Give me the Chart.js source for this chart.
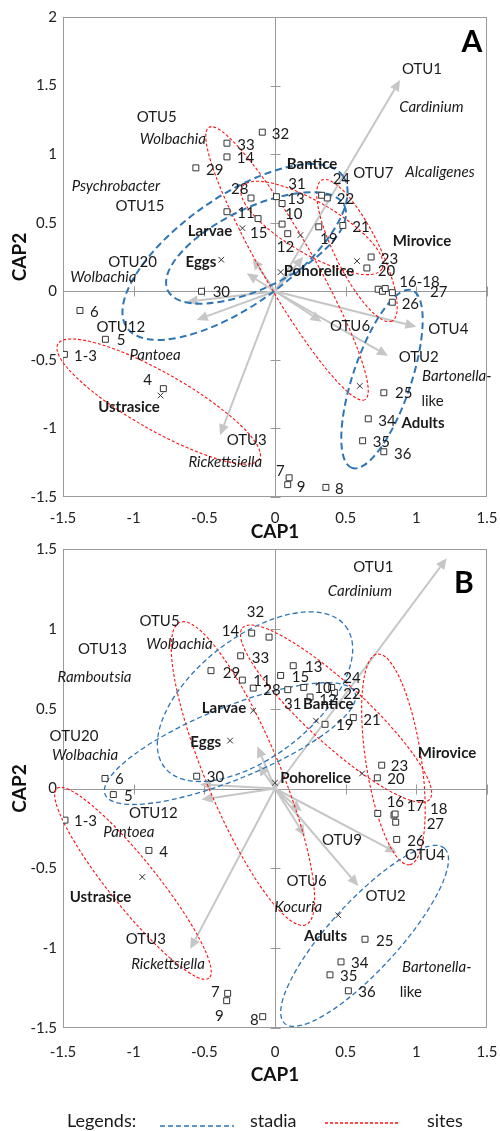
<!DOCTYPE html>
<html>
<head>
<meta charset="utf-8">
<script src="https://cdn.jsdelivr.net/npm/chart.js@4.4.1/dist/chart.umd.min.js"></script>
<style>
body { margin: 0; background: #fff; }
#wrap { position: relative; width: 500px; height: 1131px; overflow: hidden; }
#chartA { position: absolute; left: 0; top: 0; }
#chartB { position: absolute; left: 0; top: 530px; }
</style>
</head>
<body>
<div id="wrap">
<canvas id="chartA" width="500" height="545"></canvas>
<canvas id="chartB" width="500" height="601"></canvas>
</div>
<script>
// =========================
// PANEL A - data
// =========================
const samplesA = [
    ['1-3', -1.49, -0.46], ['4', -0.79, -0.71], ['5', -1.20, -0.35], ['6', -1.38, -0.14],
    ['7', 0.10, -1.36], ['8', 0.36, -1.43], ['9', 0.09, -1.41], ['10', 0.05, 0.49],
    ['11', -0.34, 0.58], ['12', 0.09, 0.42], ['13', 0.05, 0.64], ['14', -0.34, 0.98],
    ['15', -0.12, 0.53], ['16', 0.73, 0.015], ['17', 0.76, 0.0], ['18', 0.78, 0.02],
    ['19', 0.31, 0.47], ['20', 0.65, 0.17], ['21', 0.48, 0.48], ['22', 0.37, 0.68],
    ['23', 0.68, 0.25], ['24', 0.33, 0.70], ['25', 0.77, -0.74], ['26', 0.83, -0.08],
    ['27', 0.83, -0.01], ['28', -0.17, 0.68], ['29', -0.56, 0.90], ['30', -0.52, 0.0],
    ['31', 0.01, 0.69], ['32', -0.09, 1.16], ['33', -0.34, 1.08], ['34', 0.66, -0.93],
    ['35', 0.62, -1.09], ['36', 0.77, -1.17]
];
// where each sample number is written (left edge of text)
const sampleTextA = [
    ['1-3', -1.422, -0.472], ['4', -0.932, -0.647], ['5', -1.12, -0.355], ['6', -1.309, -0.149],
    ['7', 0.007, -1.315], ['8', 0.425, -1.442], ['9', 0.154, -1.425], ['10', 0.071, 0.561],
    ['11', -0.267, 0.569], ['12', 0.012, 0.325], ['13', 0.087, 0.675], ['14', -0.271, 0.97],
    ['15', -0.177, 0.427], ['16-18', 0.88, 0.07], ['19', 0.318, 0.379], ['20', 0.727, 0.15],
    ['21', 0.547, 0.467], ['22', 0.437, 0.671], ['23', 0.748, 0.236], ['24', 0.408, 0.817],
    ['25', 0.849, -0.744], ['26', 0.896, -0.093], ['27', 1.097, -0.003], ['28', -0.311, 0.746],
    ['29', -0.488, 0.885], ['30', -0.441, -0.005], ['31', 0.094, 0.782], ['32', -0.023, 1.147],
    ['33', -0.267, 1.067], ['34', 0.731, -0.944], ['35', 0.691, -1.101], ['36', 0.842, -1.186]
];
const centroidsA = [
    ['Eggs', -0.38, 0.23], ['Larvae', -0.23, 0.46], ['Adults', 0.60, -0.69],
    ['Bantice', 0.18, 0.41], ['Mirovice', 0.58, 0.22], ['Pohorelice', 0.04, 0.14], ['Ustrasice', -0.81, -0.76]
];
const groupTextA = [
    ['Eggs', -0.524, 0.214], ['Larvae', -0.46, 0.44], ['Adults', 1.047, -0.96],
    ['Bantice', 0.262, 0.928], ['Mirovice', 1.04, 0.367], ['Pohorelice', 0.311, 0.148], ['Ustrasice', -1.033, -0.844]
];
// OTU vectors (tips), origin at 0,0
const vectorsA = [
    [0.885, 1.54], [0.20, 0.252], [-0.158, 0.241], [-0.20, 0.131], [-0.625, -0.076],
    [-0.554, -0.209], [0.33, -0.222], [1.0, -0.258], [0.80, -0.47], [-0.389, -1.05]
];
const taxaTextA = [
    ['OTU1', 1.04, 1.62, 0], ['Cardinium', 1.106, 1.342, 1], ['OTU7', 0.696, 0.865, 0],
    ['Alcaligenes', 1.167, 0.872, 1], ['OTU5', -0.837, 1.273, 0], ['Wolbachia', -0.723, 1.108, 1],
    ['Psychrobacter', -1.126, 0.768, 1], ['OTU15', -0.955, 0.622, 0], ['OTU20', -1.008, 0.216, 0],
    ['Wolbachia', -1.215, 0.106, 1], ['OTU12', -1.091, -0.258, 0], ['Pantoea', -0.849, -0.464, 1],
    ['OTU3', -0.2, -1.084, 0], ['Rickettsiella', -0.352, -1.243, 1], ['OTU6', 0.531, -0.253, 0],
    ['OTU4', 1.226, -0.277, 0], ['OTU2', 1.017, -0.481, 0], ['Bartonella-', 1.286, -0.618, 1],
    ['like', 1.115, -0.798, 0]
];
// ellipses: centre x, centre y, end of long axis x, y, short/long ratio
const stadiaEllA = [
    [-0.283, 0.287, 0.482, 0.839, 0.415],
    [-0.134, 0.316, 0.491, 0.625, 0.41],
    [0.757, -0.64, 0.545, -1.288, 0.31]
];
const sitesEllA = [
    [0.085, 0.203, 0.637, -0.79, 0.166],
    [0.262, 0.462, 0.757, 0.163, 0.32],
    [0.58, 0.297, 0.828, -0.217, 0.28],
    [-0.823, -0.804, -0.11, -1.223, 0.246]
];

// =========================
// PANEL B - data
// =========================
const samplesB = [
    ['1-3', -1.486, -0.198], ['4', -0.892, -0.388], ['5', -1.144, -0.038], ['6', -1.203, 0.063],
    ['7', -0.335, -1.283], ['8', -0.087, -1.429], ['9', -0.342, -1.329], ['10', 0.203, 0.633],
    ['11', -0.231, 0.679], ['12', 0.248, 0.573], ['13', 0.129, 0.769], ['14', -0.165, 0.973],
    ['15', 0.04, 0.708], ['16', 0.727, -0.156], ['17', 0.842, -0.167], ['18', 0.85, -0.16],
    ['19', 0.354, 0.402], ['20', 0.724, 0.067], ['21', 0.554, 0.444], ['22', 0.42, 0.602],
    ['23', 0.755, 0.146], ['24', 0.401, 0.633], ['25', 0.637, -0.944], ['26', 0.861, -0.319],
    ['27', 0.854, -0.211], ['28', -0.154, 0.629], ['29', -0.453, 0.738], ['30', -0.554, 0.077],
    ['31', 0.09, 0.619], ['32', -0.042, 0.948], ['33', -0.243, 0.831], ['34', 0.467, -1.086],
    ['35', 0.389, -1.167], ['36', 0.519, -1.267]
];
const sampleTextB = [
    ['1-3', -1.422, -0.204], ['4', -0.819, -0.398], ['5', -1.068, -0.048], ['6', -1.132, 0.056],
    ['7', -0.453, -1.277], ['8', -0.177, -1.454], ['9', -0.425, -1.423], ['10', 0.278, 0.627],
    ['11', -0.154, 0.671], ['12', 0.313, 0.556], ['13', 0.212, 0.758], ['14', -0.377, 0.988],
    ['15', 0.118, 0.696], ['16', 0.79, -0.086], ['17', 0.932, -0.111], ['18', 1.097, -0.127],
    ['19', 0.432, 0.394], ['20', 0.795, 0.056], ['21', 0.625, 0.431], ['22', 0.483, 0.588],
    ['23', 0.819, 0.139], ['24', 0.483, 0.694], ['25', 0.715, -0.954], ['26', 0.936, -0.329],
    ['27', 1.073, -0.221], ['28', -0.083, 0.619], ['29', -0.37, 0.723], ['30', -0.483, 0.073],
    ['31', 0.064, 0.531], ['32', -0.2, 1.102], ['33', -0.165, 0.817], ['34', 0.538, -1.094],
    ['35', 0.46, -1.177], ['36', 0.589, -1.277]
];
const centroidsB = [
    ['Eggs', -0.318, 0.3], ['Larvae', -0.154, 0.488], ['Adults', 0.448, -0.794],
    ['Bantice', 0.29, 0.425], ['Mirovice', 0.616, 0.094], ['Pohorelice', 0.0, 0.036], ['Ustrasice', -0.939, -0.554]
];
const groupTextB = [
    ['Eggs', -0.49, 0.292], ['Larvae', -0.361, 0.504], ['Adults', 0.357, -0.923],
    ['Bantice', 0.377, 0.529], ['Mirovice', 1.217, 0.223], ['Pohorelice', 0.287, 0.063], ['Ustrasice', -1.235, -0.679]
];
const vectorsB = [
    [1.215, 1.442], [-0.125, 0.264], [-0.118, 0.15], [-0.53, 0.025], [-0.52, -0.069],
    [-0.60, -1.006], [0.189, -0.142], [0.212, -0.298], [0.861, -0.402], [0.59, -0.61]
];
const taxaTextB = [
    ['OTU1', 0.696, 1.389, 0], ['Cardinium', 0.601, 1.238, 1], ['OTU5', -0.817, 1.046, 0],
    ['Wolbachia', -0.676, 0.906, 1], ['OTU13', -1.221, 0.875, 0], ['Ramboutsia', -1.277, 0.696, 1],
    ['OTU20', -1.422, 0.327, 0], ['Wolbachia', -1.344, 0.208, 1], ['OTU12', -0.861, -0.152, 0],
    ['Pantoea', -1.034, -0.271, 1], ['OTU3', -0.914, -0.944, 0], ['Rickettsiella', -0.757, -1.1, 1],
    ['OTU9', 0.474, -0.323, 0], ['OTU4', 1.061, -0.419, 0], ['OTU6', 0.224, -0.579, 0],
    ['Kocuria', 0.165, -0.746, 1], ['OTU2', 0.783, -0.677, 0], ['Bartonella-', 1.144, -1.121, 1],
    ['like', 0.961, -1.273, 0]
];
const stadiaEllB = [
    [-0.1415, 0.575, 0.499, 1.017, 0.52],
    [-0.318, 0.281, 0.566, 0.6, 0.267],
    [0.634, -0.923, 1.2, -0.375, 0.29]
];
const sitesEllB = [
    [-0.227, 0.094, 0.219, -0.853, 0.226],
    [0.432, 0.469, 1.093, -0.069, 0.236],
    [0.838, 0.1825, 0.952, -0.477, 0.26],
    [-1.005, -0.594, -0.467, -1.188, 0.197]
];

const BLUE = '#2e75b6';
const RED = '#ff1010';
const GREY_AX = '#9a9a9a';
const GREY_VEC = '#c6c6c6';

Chart.defaults.font.family = 'Lato, "Open Sans", sans-serif';
Chart.defaults.color = '#222';

// =========================
// PLUGIN: frame, vectors, ellipses, texts
// =========================
function ordPlugin(cfg) {
    return {
        id: 'ord' + cfg.letter,
        beforeDatasetsDraw(chart) {
            const { ctx, chartArea: a } = chart;
            const xs = chart.scales.x, ys = chart.scales.y;
            const px = v => xs.getPixelForValue(v);
            const py = v => ys.getPixelForValue(v);
            ctx.save();

            // frame + zero axes
            ctx.strokeStyle = GREY_AX;
            ctx.lineWidth = 1;
            ctx.strokeRect(a.left + 0.5, a.top + 0.5, a.width - 1, a.height - 1);
            const x0 = Math.round(px(0)) + 0.5, y0 = Math.round(py(0)) + 0.5;
            ctx.beginPath();
            ctx.moveTo(x0, a.top); ctx.lineTo(x0, a.bottom);
            ctx.moveTo(a.left, y0); ctx.lineTo(a.right, y0);
            xs.ticks.forEach(t => {
                if (t.value === 0) return;
                const p = Math.round(px(t.value)) + 0.5;
                ctx.moveTo(p, y0 - 5); ctx.lineTo(p, y0 + 5);
            });
            ys.ticks.forEach(t => {
                if (t.value === 0) return;
                const p = Math.round(py(t.value)) + 0.5;
                ctx.moveTo(x0 - 5, p); ctx.lineTo(x0 + 5, p);
            });
            ctx.stroke();

            // OTU vectors
            ctx.strokeStyle = GREY_VEC;
            ctx.fillStyle = GREY_VEC;
            ctx.lineWidth = 2;
            cfg.vectors.forEach(v => {
                const x1 = px(0), y1 = py(0), x2 = px(v[0]), y2 = py(v[1]);
                const ang = Math.atan2(y2 - y1, x2 - x1);
                const L = 11, W = 5;
                ctx.beginPath();
                ctx.moveTo(x1, y1);
                ctx.lineTo(x2 - L * Math.cos(ang), y2 - L * Math.sin(ang));
                ctx.stroke();
                ctx.beginPath();
                ctx.moveTo(x2, y2);
                ctx.lineTo(x2 - L * Math.cos(ang) + W * Math.sin(ang), y2 - L * Math.sin(ang) - W * Math.cos(ang));
                ctx.lineTo(x2 - L * Math.cos(ang) - W * Math.sin(ang), y2 - L * Math.sin(ang) + W * Math.cos(ang));
                ctx.closePath();
                ctx.fill();
            });

            // ellipses
            const drawEll = (list, color, width, dash) => {
                ctx.strokeStyle = color;
                ctx.lineWidth = width;
                ctx.setLineDash(dash);
                list.forEach(e => {
                    const cx = px(e[0]), cy = py(e[1]);
                    const ex = px(e[2]), ey = py(e[3]);
                    const r = Math.hypot(ex - cx, ey - cy);
                    ctx.beginPath();
                    ctx.ellipse(cx, cy, r, r * e[4], Math.atan2(ey - cy, ex - cx), 0, Math.PI * 2);
                    ctx.stroke();
                });
            };
            drawEll(cfg.sitesEll, RED, 1.1, [3, 2]);
            drawEll(cfg.stadiaEll, BLUE, cfg.blueWidth, cfg.blueDash);
            ctx.restore();
        },
        afterDatasetsDraw(chart) {
            const { ctx } = chart;
            const xs = chart.scales.x, ys = chart.scales.y;
            ctx.save();
            ctx.fillStyle = '#1a1a1a';
            ctx.textBaseline = 'middle';

            // sample numbers
            ctx.font = '15px Lato';
            ctx.textAlign = 'left';
            cfg.sampleText.forEach(t => ctx.fillText(t[0], xs.getPixelForValue(t[1]), ys.getPixelForValue(t[2])));

            // OTU / taxa names
            ctx.textAlign = 'center';
            cfg.taxaText.forEach(t => {
                ctx.font = (t[3] ? 'italic ' : '') + '15px Lato';
                ctx.fillText(t[0], xs.getPixelForValue(t[1]), ys.getPixelForValue(t[2]));
            });

            // stadia / site names
            ctx.font = 'bold 15px Lato';
            cfg.groupText.forEach(t => ctx.fillText(t[0], xs.getPixelForValue(t[1]), ys.getPixelForValue(t[2])));

            // panel letter
            ctx.font = 'bold 30px Lato';
            ctx.fillStyle = '#000';
            ctx.fillText(cfg.letter, xs.getPixelForValue(cfg.letterPos[0]), ys.getPixelForValue(cfg.letterPos[1]));
            ctx.restore();
        },
        afterDraw(chart) {
            if (!cfg.legend) return;
            const { ctx } = chart;
            ctx.save();
            ctx.fillStyle = '#1a1a1a';
            ctx.font = '18px Lato';
            ctx.textBaseline = 'middle';
            ctx.textAlign = 'left';
            ctx.fillText('Legends:', 67, 591);
            ctx.fillText('stadia', 250, 591);
            ctx.fillText('sites', 427, 591);
            ctx.lineWidth = 1.3;
            ctx.strokeStyle = BLUE;
            ctx.setLineDash([5, 3]);
            ctx.beginPath(); ctx.moveTo(160, 596); ctx.lineTo(234, 596); ctx.stroke();
            ctx.strokeStyle = RED;
            ctx.setLineDash([3, 2]);
            ctx.beginPath(); ctx.moveTo(325, 593); ctx.lineTo(399, 593); ctx.stroke();
            ctx.restore();
        }
    };
}

// =========================
// BUILD ONE PANEL
// =========================
function makePanel(canvasId, cfg) {
    const ctx = document.getElementById(canvasId).getContext('2d');
    return new Chart(ctx, {
        type: 'scatter',
        data: {
            datasets: [
                {
                    label: 'samples',
                    data: cfg.samples.map(s => ({ x: s[1], y: s[2] })),
                    pointStyle: 'rect',
                    pointRadius: 4.2,
                    pointBorderWidth: 1,
                    pointBorderColor: '#333',
                    pointBackgroundColor: '#fff'
                },
                {
                    label: 'centroids',
                    data: cfg.centroids.map(s => ({ x: s[1], y: s[2] })),
                    pointStyle: 'crossRot',
                    pointRadius: 4,
                    pointBorderWidth: 1,
                    pointBorderColor: '#333'
                }
            ]
        },
        options: {
            responsive: false,
            animation: false,
            events: [],
            layout: { padding: cfg.padding },
            plugins: { legend: { display: false }, tooltip: { enabled: false } },
            scales: {
                x: {
                    type: 'linear', min: -1.5, max: 1.5,
                    ticks: { stepSize: 0.5, padding: cfg.xTickPad, font: { size: 15 }, color: '#222', callback: v => String(v) },
                    grid: { display: false, drawTicks: false },
                    border: { display: false },
                    title: { display: true, text: 'CAP1', font: { size: 19, weight: 'bold' }, color: '#111', padding: { top: 0, bottom: cfg.xTitlePad } },
                    afterFit: s => { s.height = cfg.xAxisH; s.paddingLeft = 0; s.paddingRight = 0; }
                },
                y: {
                    type: 'linear', min: -1.5, max: cfg.yMax,
                    ticks: { stepSize: 0.5, padding: 6, font: { size: 15 }, color: '#222', callback: v => String(v) },
                    grid: { display: false, drawTicks: false },
                    border: { display: false },
                    title: { display: true, text: 'CAP2', font: { size: 19, weight: 'bold' }, color: '#111', padding: { top: 8, bottom: 0 } },
                    afterFit: s => { s.width = 63; }
                }
            }
        },
        plugins: [ordPlugin(cfg)]
    });
}

makePanel('chartA', {
    letter: 'A', letterPos: [1.394, 1.818], yMax: 2,
    samples: samplesA, sampleText: sampleTextA, centroids: centroidsA, groupText: groupTextA,
    vectors: vectorsA, taxaText: taxaTextA, stadiaEll: stadiaEllA, sitesEll: sitesEllA,
    blueWidth: 2, blueDash: [7, 4],
    padding: { top: 17, right: 13, bottom: 0, left: 0 },
    xAxisH: 48, xTickPad: 12, xTitlePad: 2, legend: false
});

makePanel('chartB', {
    letter: 'B', letterPos: [1.337, 1.288], yMax: 1.5,
    samples: samplesB, sampleText: sampleTextB, centroids: centroidsB, groupText: groupTextB,
    vectors: vectorsB, taxaText: taxaTextB, stadiaEll: stadiaEllB, sitesEll: sitesEllB,
    blueWidth: 1.3, blueDash: [5, 3],
    padding: { top: 19, right: 13, bottom: 40, left: 0 },
    xAxisH: 63, xTickPad: 15, xTitlePad: 5, legend: true
});
</script>
</body>
</html>
